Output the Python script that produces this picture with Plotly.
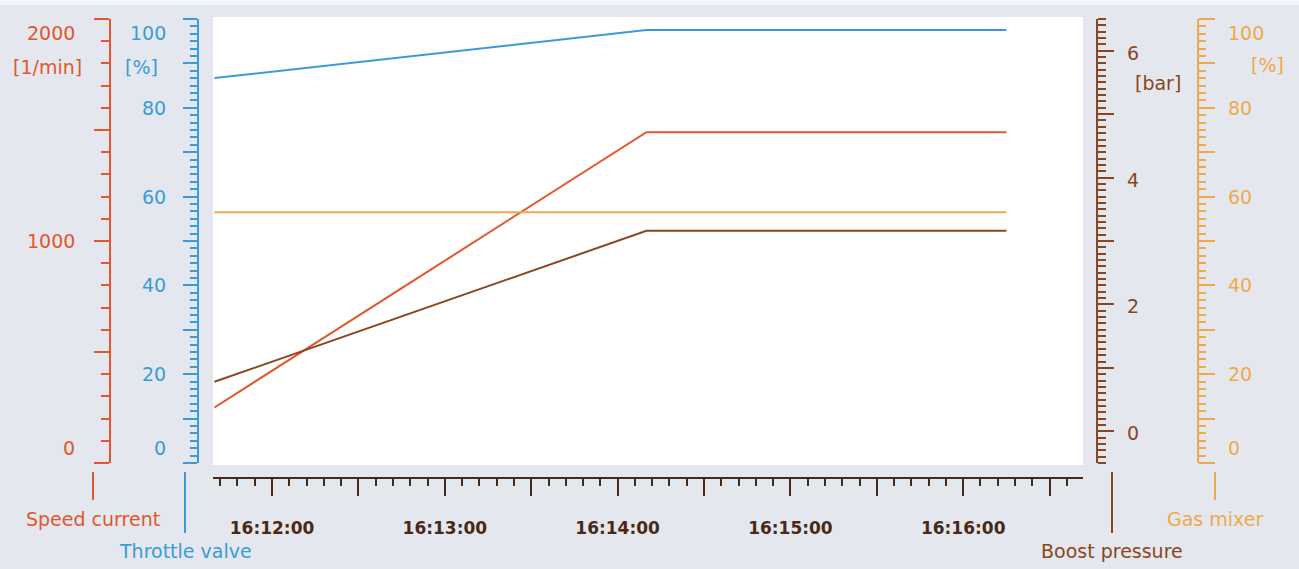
import plotly.graph_objects as go

# ---------------- data ----------------
day = "2024-01-01 "
times = [day + "16:11:40", day + "16:14:10", day + "16:16:15"]
throttle_valve = [86.7, 97.5, 97.5]          # %
speed_current = [250, 1490, 1490]            # 1/min
boost_pressure = [0.78, 3.16, 3.16]          # bar
gas_mixer = [56.5, 56.5, 56.5]               # %

x_range = [day + "16:11:39.5", day + "16:16:41.6"]
throttle_range = [0, 100]
speed_range = [0, 2000]
boost_range = [-0.5, 6.5]
gas_range = [0, 100]

throttle_labels = [0, 20, 40, 60, 80, 100]
speed_labels = [0, 1000, 2000]
boost_labels = [0, 2, 4, 6]
gas_labels = [0, 20, 40, 60, 80, 100]

# ---------------- style ----------------
W, H = 1299, 569
BG = "#e4e8ee"
C_SPEED = "#e2562c"
C_THR = "#3a9bd8"
C_BOOST = "#8a4620"
C_GAS = "#f0a84c"
C_X = "#4a2816"
FONT = "DejaVu Sans"
FS = 19


def px(x):
    return x / W


def py(y):
    return 1 - y / H


fig = go.Figure()
fig.add_trace(go.Scatter(x=times, y=throttle_valve, mode="lines", line=dict(color=C_THR, width=2),
                         name="Throttle valve", yaxis="y", xaxis="x"))
fig.add_trace(go.Scatter(x=times, y=speed_current, mode="lines", line=dict(color=C_SPEED, width=2),
                         name="Speed current", yaxis="y2", xaxis="x"))
fig.add_trace(go.Scatter(x=times, y=boost_pressure, mode="lines", line=dict(color=C_BOOST, width=2),
                         name="Boost pressure", yaxis="y3", xaxis="x"))
fig.add_trace(go.Scatter(x=[times[0], times[-1]], y=[gas_mixer[0], gas_mixer[-1]], mode="lines",
                         line=dict(color=C_GAS, width=2), name="Gas mixer", yaxis="y4", xaxis="x"))
# invisible trace to carry the label x-axis
fig.add_trace(go.Scatter(x=times, y=throttle_valve, mode="lines", opacity=0, hoverinfo="skip",
                         showlegend=False, xaxis="x2", yaxis="y"))

ydom = [py(463), py(19)]
common_y = dict(showgrid=False, zeroline=False, showticklabels=False, ticks="outside",
                anchor="free", tickwidth=2, linewidth=2, showline=True, fixedrange=True)

fig.update_layout(
    width=W, height=H,
    margin=dict(l=0, r=0, t=0, b=0),
    paper_bgcolor=BG, plot_bgcolor="rgba(0,0,0,0)",
    showlegend=False,
    font=dict(family=FONT, size=FS),
    xaxis=dict(domain=[px(213), px(1083)], anchor="free", position=py(478), type="date",
               range=x_range, showline=True, linecolor=C_X, linewidth=2,
               ticks="outside", ticklen=17, tickwidth=2, tickcolor=C_X,
               dtick=30000, tick0=day + "16:12:00", showticklabels=False,
               minor=dict(ticks="outside", ticklen=7, tickwidth=2, tickcolor=C_X, dtick=6000,
                          tick0=day + "16:12:00", showgrid=False),
               showgrid=False, zeroline=False),
    xaxis2=dict(domain=[px(213), px(1083)], overlaying="x", anchor="free", position=py(478),
                type="date", range=x_range, showline=False, ticks="", dtick=60000,
                tick0=day + "16:12:00", tickformat="%H:%M:%S", side="bottom",
                tickfont=dict(family=FONT, size=17, color=C_X, weight="bold"),
                ticklabelstandoff=38, showgrid=False, zeroline=False),
    yaxis=dict(domain=ydom, position=px(198), side="left", range=throttle_range,
               linecolor=C_THR, tickcolor=C_THR, ticklen=14, dtick=10, tick0=0,
               minor=dict(ticks="outside", ticklen=7, tickwidth=2, tickcolor=C_THR, dtick=10 / 6,
                          tick0=0, showgrid=False), **common_y),
    yaxis2=dict(overlaying="y", position=px(110), side="left", range=speed_range,
                linecolor=C_SPEED, tickcolor=C_SPEED, ticklen=15, dtick=500, tick0=0,
                minor=dict(ticks="outside", ticklen=8, tickwidth=2, tickcolor=C_SPEED, dtick=100,
                           tick0=0, showgrid=False), **common_y),
    yaxis3=dict(overlaying="y", position=px(1097), side="right", range=boost_range,
                linecolor=C_BOOST, tickcolor=C_BOOST, ticklen=16, dtick=1, tick0=0,
                minor=dict(ticks="outside", ticklen=8, tickwidth=2, tickcolor=C_BOOST, dtick=0.1,
                           tick0=0, showgrid=False), **common_y),
    yaxis4=dict(overlaying="y", position=px(1198), side="right", range=gas_range,
                linecolor=C_GAS, tickcolor=C_GAS, ticklen=16, dtick=10, tick0=0,
                minor=dict(ticks="outside", ticklen=7, tickwidth=2, tickcolor=C_GAS, dtick=10 / 6,
                           tick0=0, showgrid=False), **common_y),
)

# background panels
fig.add_shape(type="rect", xref="paper", yref="paper", x0=0, x1=1, y0=py(5), y1=1,
              fillcolor="#f3f5f8", line_width=0, layer="below")
fig.add_shape(type="rect", xref="paper", yref="paper", x0=px(213), x1=px(1083), y0=py(465), y1=py(17),
              fillcolor="white", line_width=0, layer="below")


def end_shift(v, lo, hi):
    if v == hi:
        return -14
    if v == lo:
        return 15
    return 0


ann = []
for v in throttle_labels:
    ann.append(dict(x=px(168), xref="paper", xanchor="right", y=v, yref="y", yanchor="middle",
                    yshift=end_shift(v, 0, 100), text=str(v), showarrow=False,
                    font=dict(color=C_THR, size=FS)))
for v in speed_labels:
    ann.append(dict(x=px(77), xref="paper", xanchor="right", y=v, yref="y2", yanchor="middle",
                    yshift=end_shift(v, 0, 2000), text=str(v), showarrow=False,
                    font=dict(color=C_SPEED, size=FS)))
for v in boost_labels:
    ann.append(dict(x=px(1125), xref="paper", xanchor="left", y=v, yref="y3", yanchor="middle",
                    yshift=-2, text=str(v), showarrow=False,
                    font=dict(color=C_BOOST, size=FS)))
for v in gas_labels:
    ann.append(dict(x=px(1226), xref="paper", xanchor="left", y=v, yref="y4", yanchor="middle",
                    yshift=end_shift(v, 0, 100), text=str(v), showarrow=False,
                    font=dict(color=C_GAS, size=FS)))

# units
units = [("[1/min]", 84, 67, "right", C_SPEED), ("[%]", 160, 67, "right", C_THR),
         ("[bar]", 1133, 83, "left", C_BOOST), ("[%]", 1249, 65, "left", C_GAS)]
for t, x, y, xa, c in units:
    ann.append(dict(x=px(x), y=py(y), xref="paper", yref="paper", xanchor=xa, yanchor="middle",
                    text=t, showarrow=False, font=dict(color=c, size=FS)))

# series names under the axes
names = [("Speed current", 93, 472, 500, 519, C_SPEED), ("Throttle valve", 185, 472, 533, 551, C_THR),
         ("Boost pressure", 1112, 472, 533, 551, C_BOOST), ("Gas mixer", 1215, 472, 500, 519, C_GAS)]
for t, x, y0, y1, ty, c in names:
    fig.add_shape(type="line", xref="paper", yref="paper", x0=px(x), x1=px(x), y0=py(y0), y1=py(y1),
                  line=dict(color=c, width=2))
    ann.append(dict(x=px(x), y=py(ty), xref="paper", yref="paper", xanchor="center", yanchor="middle",
                    text=t, showarrow=False, font=dict(color=c, size=FS)))

fig.update_layout(annotations=ann)
fig.write_html("out.html")
